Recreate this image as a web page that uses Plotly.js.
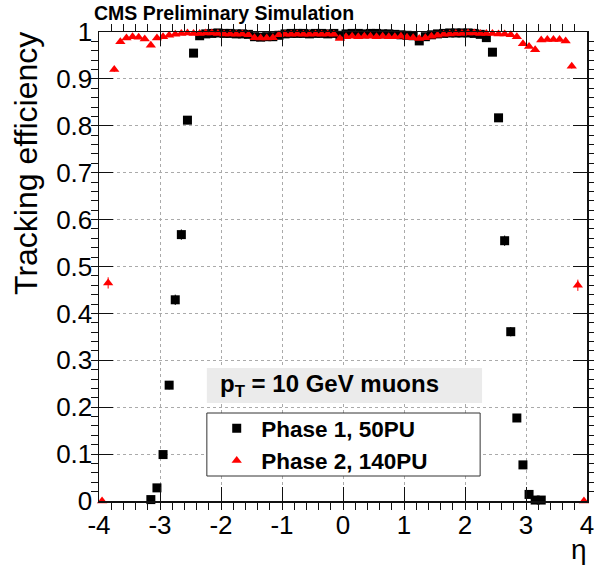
<!DOCTYPE html>
<html>
<head>
<meta charset="utf-8">
<script src="https://cdn.plot.ly/plotly-3.0.1.min.js"></script>
<style>html,body{margin:0;padding:0;background:#fff;}#chart{width:594px;height:565px;}</style>
</head>
<body>
<div id="chart"></div>
<script>
// Phase 1, 50PU (black squares)
const etaPhase1 = [
  -3.15,-3.05,-2.95,-2.85,-2.75,-2.65,-2.55,-2.45,-2.35,-2.25,
  -2.15,-2.05,-1.95,-1.85,-1.75,-1.65,-1.55,-1.45,-1.35,-1.25,
  -1.15,-1.05,-0.95,-0.85,-0.75,-0.65,-0.55,-0.45,-0.35,-0.25,
  -0.15,-0.05,0.05,0.15,0.25,0.35,0.45,0.55,0.65,0.75,
  0.85,0.95,1.05,1.15,1.25,1.35,1.45,1.55,1.65,1.75,
  1.85,1.95,2.05,2.15,2.25,2.35,2.45,2.55,2.65,2.75,
  2.85,2.95,3.05,3.15,3.25
];
const effPhase1 = [
  0.003,0.028,0.099,0.247,0.429,0.568,0.812,0.955,0.992,0.996,
  0.997,0.998,0.997,0.997,0.996,0.996,0.995,0.990,0.989,0.990,
  0.990,0.993,0.996,0.997,0.997,0.997,0.996,0.997,0.997,0.996,
  0.997,0.993,0.996,0.997,0.997,0.996,0.997,0.997,0.996,0.996,
  0.995,0.994,0.993,0.992,0.981,0.990,0.994,0.996,0.997,0.998,
  0.998,0.998,0.998,0.997,0.995,0.988,0.957,0.817,0.555,0.361,
  0.177,0.077,0.014,0.002,0.002
];
const errPhase1 = [
  0.002,0.004,0.006,0.009,0.011,0.011,0.008,0.004,0.002,0.002,
  0.002,0.002,0.002,0.002,0.002,0.002,0.002,0.002,0.002,0.002,
  0.002,0.002,0.002,0.002,0.002,0.002,0.002,0.002,0.002,0.002,
  0.002,0.002,0.002,0.002,0.002,0.002,0.002,0.002,0.002,0.002,
  0.002,0.002,0.002,0.002,0.002,0.002,0.002,0.002,0.002,0.002,
  0.002,0.002,0.002,0.002,0.002,0.002,0.004,0.008,0.011,0.010,
  0.008,0.005,0.003,0.002,0.002
];

// Phase 2, 140PU (red triangles)
const etaPhase2 = [
  -3.95,-3.85,-3.75,-3.65,-3.55,-3.45,-3.35,-3.25,-3.15,-3.05,
  -2.95,-2.85,-2.75,-2.65,-2.55,-2.45,-2.35,-2.25,-2.15,-2.05,
  -1.95,-1.85,-1.75,-1.65,-1.55,-1.45,-1.35,-1.25,-1.15,-1.05,
  -0.95,-0.85,-0.75,-0.65,-0.55,-0.45,-0.35,-0.25,-0.15,-0.05,
  0.05,0.15,0.25,0.35,0.45,0.55,0.65,0.75,0.85,0.95,
  1.05,1.15,1.25,1.35,1.45,1.55,1.65,1.75,1.85,1.95,
  2.05,2.15,2.25,2.35,2.45,2.55,2.65,2.75,2.85,2.95,
  3.05,3.15,3.25,3.35,3.45,3.55,3.65,3.75,3.85,3.95
];
const effPhase2 = [
  0.000,0.465,0.920,0.979,0.987,0.990,0.989,0.985,0.972,0.987,
  0.990,0.993,0.995,0.997,0.998,0.997,0.997,0.998,0.998,0.997,
  0.996,0.996,0.995,0.996,0.994,0.988,0.987,0.987,0.988,0.994,
  0.995,0.995,0.996,0.995,0.995,0.996,0.995,0.996,0.995,0.986,
  0.990,0.991,0.990,0.991,0.991,0.990,0.991,0.990,0.990,0.991,
  0.989,0.988,0.986,0.988,0.991,0.993,0.995,0.996,0.997,0.997,
  0.998,0.998,0.997,0.997,0.997,0.996,0.996,0.994,0.990,0.975,
  0.969,0.962,0.983,0.984,0.984,0.984,0.981,0.927,0.460,0.000
];
const errPhase2 = [
  0.000,0.012,0.005,0.003,0.002,0.002,0.002,0.002,0.003,0.002,
  0.002,0.002,0.002,0.002,0.002,0.002,0.002,0.002,0.002,0.002,
  0.002,0.002,0.002,0.002,0.002,0.002,0.002,0.002,0.002,0.002,
  0.002,0.002,0.002,0.002,0.002,0.002,0.002,0.002,0.002,0.002,
  0.002,0.002,0.002,0.002,0.002,0.002,0.002,0.002,0.002,0.002,
  0.002,0.002,0.002,0.002,0.002,0.002,0.002,0.002,0.002,0.002,
  0.002,0.002,0.002,0.002,0.002,0.002,0.002,0.002,0.002,0.003,
  0.003,0.003,0.002,0.002,0.002,0.002,0.002,0.005,0.012,0.000
];

const xTickVals = [-4,-3,-2,-1,0,1,2,3,4];
const xTickText = ['-4','-3','-2','-1','0','1','2','3','4'];
const yTickVals = [0,0.1,0.2,0.3,0.4,0.5,0.6,0.7,0.8,0.9,1];
const yTickText = ['0','0.1','0.2','0.3','0.4','0.5','0.6','0.7','0.8','0.9','1'];

const FONT = 'Liberation Sans, Arial, Helvetica, sans-serif';

const traces = [
  {
    type: 'scatter', mode: 'markers', name: 'Phase 1, 50PU',
    x: etaPhase1, y: effPhase1,
    error_y: {type: 'data', array: errPhase1, visible: true, color: '#000', thickness: 1, width: 0},
    marker: {symbol: 'square', size: 9, color: '#000'},
    cliponaxis: false
  },
  {
    type: 'scatter', mode: 'markers', name: 'Phase 2, 140PU',
    x: etaPhase2, y: effPhase2,
    error_y: {type: 'data', array: errPhase2, visible: true, color: '#ff0000', thickness: 1, width: 0},
    marker: {symbol: 'triangle-up', size: 9, color: '#ff0000'},
    cliponaxis: false
  }
];

const axisCommon = {
  showline: true, linecolor: '#111', linewidth: 1.5, mirror: 'ticks',
  ticks: 'inside', ticklen: 14, tickwidth: 1, tickcolor: '#111',
  showgrid: true, gridcolor: '#aaaaaa', griddash: 'dot', gridwidth: 1,
  zeroline: false, ticklabeloverflow: 'allow',
  tickfont: {family: FONT, size: 26, color: '#000'}
};

const layout = {
  width: 594, height: 565,
  margin: {l: 99, r: 7, t: 32, b: 64},
  paper_bgcolor: '#fff', plot_bgcolor: '#fff',
  showlegend: true,
  legend: {
    x: 0.232, y: 0.2004, xanchor: 'left', yanchor: 'top',
    bgcolor: 'rgba(0,0,0,0)', borderwidth: 0, itemwidth: 39,
    font: {family: FONT, size: 22.5, color: '#000', weight: 'bold'},
    tracegroupgap: 0
  },
  xaxis: Object.assign({}, axisCommon, {
    range: [-4, 4], tickmode: 'array', tickvals: xTickVals, ticktext: xTickText,
    minor: {dtick: 0.2, ticklen: 7, tickcolor: '#111', showgrid: false}
  }),
  yaxis: Object.assign({}, axisCommon, {
    range: [0, 1], tickmode: 'array', tickvals: yTickVals, ticktext: yTickText,
    minor: {dtick: 0.02, ticklen: 7, tickcolor: '#111', showgrid: false}
  }),
  shapes: [
    {type: 'rect', xref: 'paper', yref: 'paper', x0: 0.221, x1: 0.785, y0: 0.209, y1: 0.2836,
     fillcolor: '#ebebeb', line: {width: 0}, layer: 'above'},
    {type: 'rect', xref: 'paper', yref: 'paper', x0: 0.221, x1: 0.781, y0: 0.0533, y1: 0.1876,
     fillcolor: '#fff', line: {width: 1, color: '#333'}, layer: 'above'}
  ],
  annotations: [
    {xref: 'paper', yref: 'paper', x: -0.014, y: 1.0405, xanchor: 'left', yanchor: 'middle',
     text: '<b>CMS Preliminary Simulation</b>', showarrow: false,
     font: {family: FONT, size: 19.5, color: '#000'}},
    {xref: 'paper', yref: 'paper', x: -0.15, y: 1.005, xanchor: 'center', yanchor: 'top',
     text: 'Tracking efficiency', textangle: -90, showarrow: false,
     font: {family: FONT, size: 32, color: '#000'}},
    {xref: 'paper', yref: 'paper', x: 0.983, y: -0.103, xanchor: 'center', yanchor: 'middle',
     text: 'η', showarrow: false, font: {family: FONT, size: 28, color: '#000'}},
    {xref: 'paper', yref: 'paper', x: 0.244, y: 0.247, xanchor: 'left', yanchor: 'middle',
     text: '<b>p<sub>T</sub> = 10 GeV muons</b>', showarrow: false,
     font: {family: FONT, size: 24, color: '#000'}}
  ]
};

Plotly.newPlot('chart', traces, layout, {displayModeBar: false, staticPlot: true});
</script>
</body>
</html>
